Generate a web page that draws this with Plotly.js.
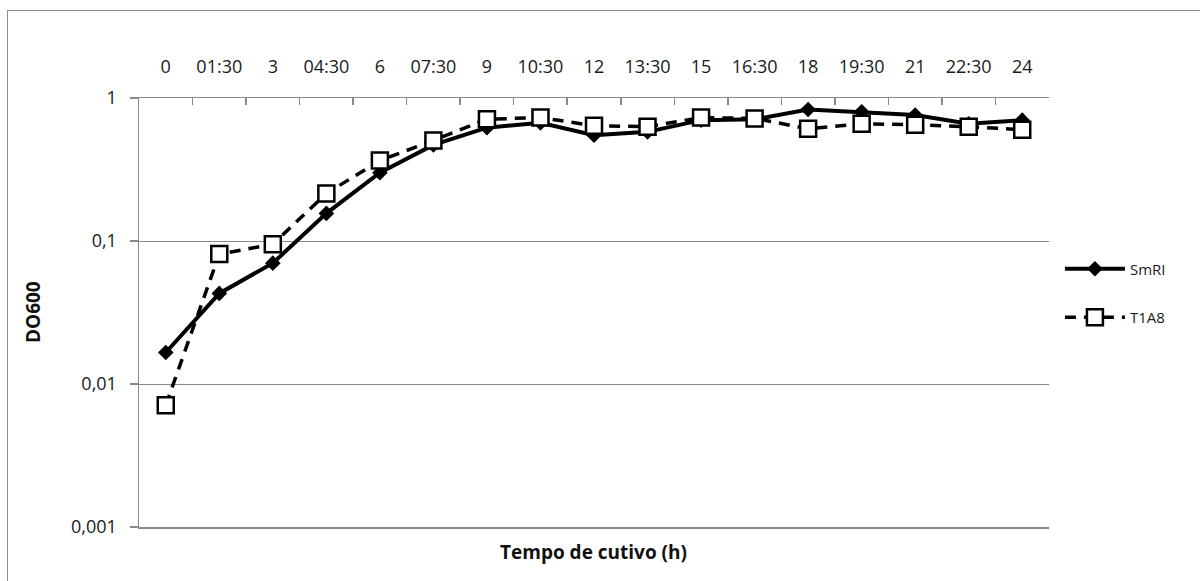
<!DOCTYPE html>
<html>
<head>
<meta charset="utf-8">
<script src="https://cdn.plot.ly/plotly-3.0.1.min.js"></script>
<style>
  html, body { margin: 0; padding: 0; background: #fff; overflow: hidden; }
  #frame {
    position: absolute; left: 7px; top: 10px; width: 1220px; height: 600px;
    border: 1.5px solid #8e8e8e; box-sizing: border-box;
  }
  #chart { position: absolute; left: 0; top: 0; width: 1200px; height: 581px; }
</style>
</head>
<body>
<div id="frame"></div>
<div id="chart"></div>
<script>
// Sampling times of the culture (hours, hh:mm for half steps)
const times = ['0', '01:30', '3', '04:30', '6', '07:30', '9', '10:30', '12',
               '13:30', '15', '16:30', '18', '19:30', '21', '22:30', '24'];

// Optical density at 600 nm for each strain
const smri = [0.0166, 0.043, 0.070, 0.156, 0.30, 0.47, 0.62, 0.67, 0.55,
              0.58, 0.70, 0.71, 0.83, 0.80, 0.76, 0.66, 0.70];
const t1a8 = [0.0071, 0.081, 0.095, 0.215, 0.365, 0.505, 0.71, 0.73, 0.64,
              0.63, 0.73, 0.72, 0.61, 0.66, 0.65, 0.63, 0.60];

// Log axis ticks with comma decimals
const yTickVals = [0.001, 0.01, 0.1, 1];
const yTickText = ['0,001', '0,01', '0,1', '1'];

const textFont = 'Open Sans, Liberation Sans, sans-serif';
const axisGray = '#8a8a8a';
const textColor = '#1a1a1a';

const traces = [
  {
    x: times, y: smri, name: 'SmRI', type: 'scatter', mode: 'lines+markers',
    legendgroup: 'a',
    line: { color: '#000', width: 4 },
    marker: { symbol: 'diamond', size: 12, color: '#000' }
  },
  {
    x: times, y: t1a8, name: 'T1A8', type: 'scatter', mode: 'lines+markers',
    legendgroup: 'b',
    line: { color: '#000', width: 3.5, dash: '11px,8px' },
    marker: { symbol: 'square', size: 16, color: '#fff', line: { color: '#000', width: 2.5 } }
  }
];

const layout = {
  width: 1200, height: 581,
  margin: { l: 139, r: 151, t: 98, b: 54 },
  paper_bgcolor: 'rgba(0,0,0,0)',
  plot_bgcolor: 'rgba(0,0,0,0)',
  font: { family: textFont, size: 19, color: textColor },
  showlegend: true,
  legend: {
    x: 1.012, xanchor: 'left', y: 0.64, yanchor: 'top',
    traceorder: 'grouped', tracegroupgap: 26, itemwidth: 60,
    font: { family: textFont, size: 15, color: textColor },
    bgcolor: 'rgba(0,0,0,0)'
  },
  xaxis: {
    type: 'category', side: 'top', range: [-0.5, 16.5],
    showline: true, linecolor: axisGray, linewidth: 1.5, mirror: true,
    showgrid: false, zeroline: false,
    ticks: 'inside', tickson: 'boundaries', ticklen: 7, tickcolor: axisGray, tickwidth: 1.5,
    tickangle: 0, ticklabelstandoff: 16,
    tickfont: { family: textFont, size: 18, color: textColor }
  },
  yaxis: {
    type: 'log', range: [-3, 0],
    tickvals: yTickVals, ticktext: yTickText,
    showline: true, linecolor: axisGray, linewidth: 1.5,
    showgrid: true, gridcolor: axisGray, gridwidth: 1, zeroline: false,
    ticks: 'outside', ticklen: 8, tickcolor: axisGray, tickwidth: 1.5,
    ticklabelstandoff: 9,
    tickfont: { family: textFont, size: 18, color: textColor }
  },
  annotations: [
    {
      text: '<b>Tempo de cutivo (h)</b>', xref: 'paper', yref: 'paper',
      x: 0.499, y: -0.058, xanchor: 'center', yanchor: 'middle', showarrow: false,
      font: { family: textFont, size: 19, color: '#111' }
    },
    {
      text: '<b>DO600</b>', xref: 'paper', yref: 'paper', textangle: -90,
      x: -0.1165, y: 0.501, xanchor: 'center', yanchor: 'middle', showarrow: false,
      font: { family: textFont, size: 19, color: '#111' }
    }
  ]
};

Plotly.newPlot('chart', traces, layout, { displayModeBar: false, staticPlot: true });
</script>
</body>
</html>
